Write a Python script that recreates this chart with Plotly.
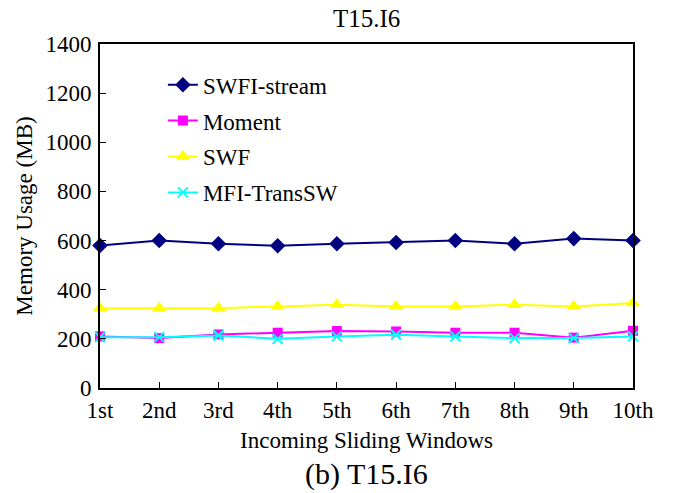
import plotly.graph_objects as go

windows = ["1st", "2nd", "3rd", "4th", "5th", "6th", "7th", "8th", "9th", "10th"]
swfi_stream = [580, 600, 587, 579, 587, 592, 600, 587, 608, 600]
moment = [210, 203, 218, 225, 232, 230, 225, 225, 205, 233]
swf = [325, 325, 325, 332, 339, 332, 332, 339, 332, 346]
mfi_transsw = [207, 207, 214, 200, 210, 217, 210, 203, 203, 210]
y_ticks = [0, 200, 400, 600, 800, 1000, 1200, 1400]

FONT = "Liberation Serif"
xs = list(range(len(windows)))

series = [
    ("SWFI-stream", swfi_stream, "#000080", dict(symbol="diamond", size=12)),
    ("Moment", moment, "#FF00FF", dict(symbol="square", size=10)),
    ("SWF", swf, "#FFFF00", dict(symbol="triangle-up", size=13)),
    ("MFI-TransSW", mfi_transsw, "#00FFFF",
     dict(symbol="x-thin", size=10, line=dict(width=2, color="#00FFFF"))),
]

fig = go.Figure()
for i, (name, vals, color, marker) in enumerate(series):
    fig.add_trace(go.Scatter(
        x=xs, y=vals, name=name, mode="lines+markers",
        line=dict(color=color, width=2),
        marker=dict(color=color, **marker),
        legendgroup=f"g{i}", cliponaxis=False,
    ))

fig.update_layout(
    width=673, height=493,
    margin=dict(l=100, r=40, t=44, b=105),
    paper_bgcolor="white", plot_bgcolor="white",
    font=dict(family=FONT, size=23, color="black"),
    showlegend=True,
    legend=dict(x=0.118, y=0.944, xanchor="left", yanchor="top",
                bgcolor="rgba(0,0,0,0)", traceorder="grouped",
                tracegroupgap=3, font=dict(family=FONT, size=23, color="black")),
    annotations=[
        dict(text="T15.I6", x=0.5, y=1.0, xref="paper", yref="paper",
             yanchor="bottom", yshift=10, showarrow=False,
             font=dict(family=FONT, size=25, color="black")),
        dict(text="(b) T15.I6", x=0.5, y=-0.25, xref="paper", yref="paper",
             showarrow=False, yanchor="middle",
             font=dict(family=FONT, size=30, color="black")),
    ],
)

fig.update_xaxes(
    range=[0, 9], tickvals=xs, ticktext=windows,
    showline=True, linecolor="black", linewidth=2, mirror=True,
    ticks="inside", ticklen=6, tickcolor="black", tickwidth=1,
    showgrid=False, zeroline=False,
    tickfont=dict(family=FONT, size=23, color="black"),
    title=dict(text="Incoming Sliding Windows", standoff=10,
               font=dict(family=FONT, size=23, color="black")),
)
fig.update_yaxes(
    range=[0, 1400], tickvals=y_ticks,
    showline=True, linecolor="black", linewidth=2, mirror=True,
    ticks="inside", ticklen=6, tickcolor="black", tickwidth=1,
    showgrid=False, zeroline=False, ticklabelstandoff=2,
    tickfont=dict(family=FONT, size=23, color="black"),
    title=dict(text="Memory Usage (MB)", standoff=6,
               font=dict(family=FONT, size=23, color="black")),
)

fig.write_html("out.html")
